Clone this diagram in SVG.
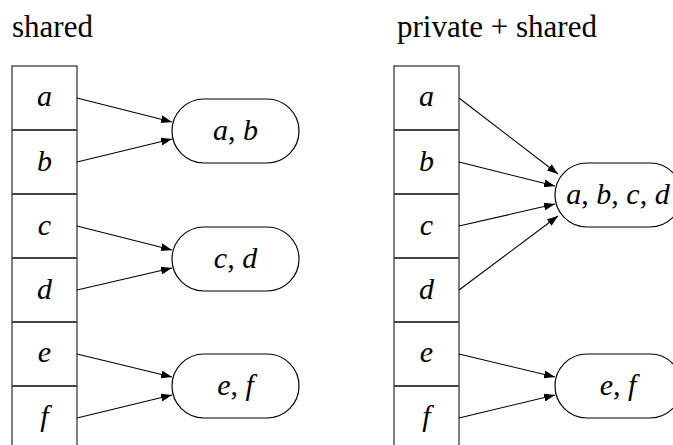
<svg xmlns="http://www.w3.org/2000/svg" width="673" height="445" viewBox="0 0 673 445">
<style>
text{font-family:'Liberation Serif','DejaVu Serif','Times New Roman',Times,serif;fill:#000}
.title{font-size:31px}
.m{font-style:italic;font-size:30px;text-anchor:middle}
.p{font-style:normal}
.col{fill:#fff;stroke:#000;stroke-width:1}
.div{stroke:#444;stroke-width:2}
.node{fill:#fff;stroke:#000;stroke-width:1.2}
.edge{stroke:#000;stroke-width:1.1;fill:none;marker-end:url(#arr)}
</style>
<defs>
<marker id="arr" markerUnits="userSpaceOnUse" markerWidth="11" markerHeight="8" refX="11" refY="4" orient="auto">
<path d="M0,0 L11,4 L0,8 z" fill="#000"/>
</marker>
</defs>
<rect width="673" height="445" fill="#fff"/>
<text class="title" x="12" y="37" font-family="Liberation Serif, serif">shared</text>
<text class="title" x="397" y="37" font-family="Liberation Serif, serif">private + shared</text>

<g id="left-array" font-family="Liberation Serif, serif">
<rect class="col" x="12" y="66" width="65" height="390"/>
<line class="div" x1="12" y1="130" x2="77" y2="130"/>
<line class="div" x1="12" y1="194" x2="77" y2="194"/>
<line class="div" x1="12" y1="258" x2="77" y2="258"/>
<line class="div" x1="12" y1="322" x2="77" y2="322"/>
<line class="div" x1="12" y1="386" x2="77" y2="386"/>
<text class="m" x="44.5" y="106">a</text>
<text class="m" x="44.5" y="171">b</text>
<text class="m" x="44.5" y="235">c</text>
<text class="m" x="44.5" y="299">d</text>
<text class="m" x="44.5" y="362">e</text>
<text class="m" x="44.5" y="426">f</text>
</g>

<g id="right-array">
<rect class="col" x="394" y="66" width="65" height="390"/>
<line class="div" x1="394" y1="130" x2="459" y2="130"/>
<line class="div" x1="394" y1="194" x2="459" y2="194"/>
<line class="div" x1="394" y1="258" x2="459" y2="258"/>
<line class="div" x1="394" y1="322" x2="459" y2="322"/>
<line class="div" x1="394" y1="386" x2="459" y2="386"/>
<text class="m" x="426.5" y="106">a</text>
<text class="m" x="426.5" y="171">b</text>
<text class="m" x="426.5" y="235">c</text>
<text class="m" x="426.5" y="299">d</text>
<text class="m" x="426.5" y="362">e</text>
<text class="m" x="426.5" y="426">f</text>
</g>

<g id="node-ab">
<rect class="node" x="172" y="99" width="127" height="64" rx="32" ry="32"/>
<text class="m" x="235.5" y="140">a<tspan class="p">, </tspan>b</text>
</g>
<g id="node-cd">
<rect class="node" x="172" y="227" width="127" height="64" rx="32" ry="32"/>
<text class="m" x="235.5" y="268">c<tspan class="p">, </tspan>d</text>
</g>
<g id="node-ef-left">
<rect class="node" x="172" y="354" width="127" height="64" rx="32" ry="32"/>
<text class="m" x="235.5" y="395">e<tspan class="p">, </tspan>f</text>
</g>
<g id="node-abcd">
<rect class="node" x="555" y="163" width="127" height="64" rx="32" ry="32"/>
<text class="m" x="618" y="204">a<tspan class="p">, </tspan>b<tspan class="p">, </tspan>c<tspan class="p">, </tspan>d</text>
</g>
<g id="node-ef-right">
<rect class="node" x="555" y="354" width="127" height="64" rx="32" ry="32"/>
<text class="m" x="618" y="395">e<tspan class="p">, </tspan>f</text>
</g>

<g id="connectors">
<line class="edge" x1="77" y1="98" x2="172" y2="122"/>
<line class="edge" x1="77" y1="162" x2="172" y2="139"/>
<line class="edge" x1="77" y1="226" x2="172" y2="250"/>
<line class="edge" x1="77" y1="290" x2="172" y2="268"/>
<line class="edge" x1="77" y1="354" x2="172" y2="377"/>
<line class="edge" x1="77" y1="418" x2="172" y2="395"/>
<line class="edge" x1="459" y1="98" x2="558" y2="174"/>
<line class="edge" x1="459" y1="162" x2="555" y2="186"/>
<line class="edge" x1="459" y1="226" x2="555" y2="204"/>
<line class="edge" x1="459" y1="290" x2="558" y2="216"/>
<line class="edge" x1="459" y1="354" x2="555" y2="377"/>
<line class="edge" x1="459" y1="418" x2="555" y2="395"/>
</g>
</svg>
